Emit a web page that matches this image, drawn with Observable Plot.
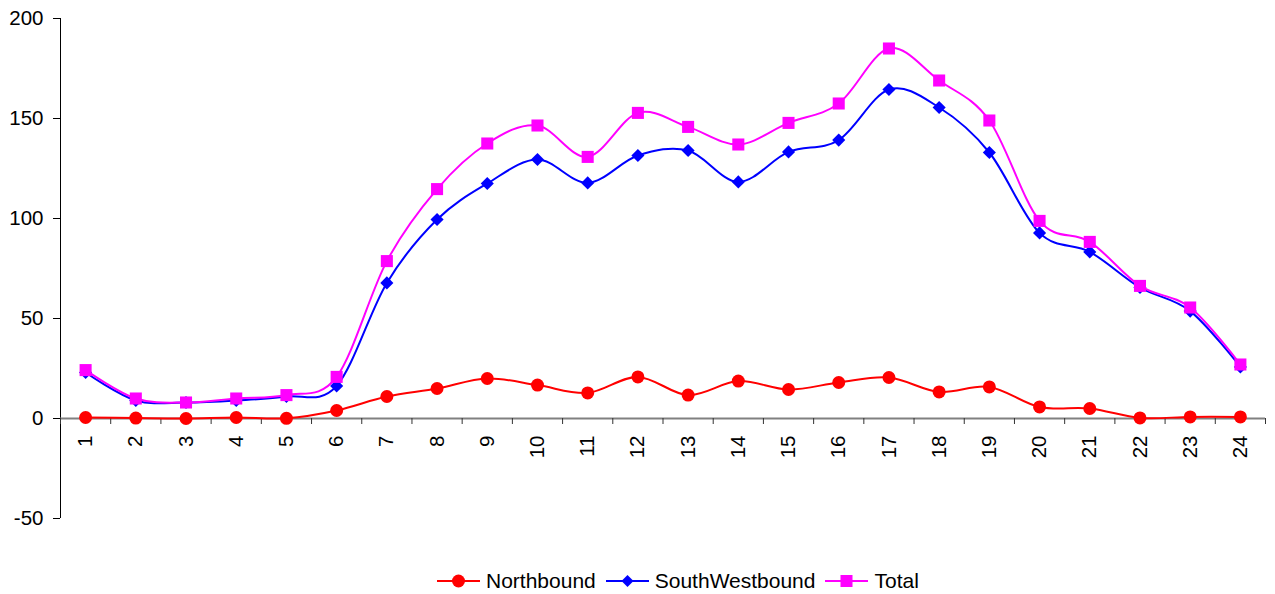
<!DOCTYPE html>
<html>
<head>
<meta charset="utf-8">
<script src="https://cdn.jsdelivr.net/npm/d3@7"></script>
<script src="https://cdn.jsdelivr.net/npm/@observablehq/plot@0.6"></script>
<style>
  html, body { margin: 0; padding: 0; background: #fff; }
  body { width: 1275px; height: 594px; overflow: hidden; font-family: "Liberation Sans", Arial, sans-serif; }
  #legend { display: flex; align-items: center; padding-left: 437px; padding-top: 9px; height: 24px; font-size: 21px; color: #000; }
  #legend .item { display: flex; align-items: center; margin-right: 10px; }
  #legend svg { margin-right: 6px; }
</style>
</head>
<body>
<div id="chart"></div>
<div id="legend"></div>
<script>
const hours = [1,2,3,4,5,6,7,8,9,10,11,12,13,14,15,16,17,18,19,20,21,22,23,24];
const northbound = [0.5,0.2,0,0.5,0.1,4,11,15,20,16.7,12.8,20.8,11.7,18.7,14.5,18,20.5,13.3,15.8,5.8,5,0.3,0.8,0.8];
const southWestbound = [23,9,8,9,11,16.3,67.8,99.5,117.5,129.5,117.8,131.5,134,118.3,133.3,139.2,164.5,155.5,133,92.8,83.3,65.5,53.7,25.8];
const total = [24.2,10,8,10,11.7,20.8,78.7,114.7,137.5,146.5,130.8,152.8,145.8,137,147.8,157.5,185,169,149,98.8,88.3,66.3,55.5,27];
const seriesNames = ["Northbound", "SouthWestbound", "Total"];
const seriesColors = ["#FF0000", "#0000FF", "#FF00FF"];
const seriesSymbols = ["circle", "diamond2", "square"];
const seriesSizes = [6.5, 5.9, 6.8];
const yTicks = [-50, 0, 50, 100, 150, 200];

const seriesValues = [northbound, southWestbound, total];
const rows = [];
seriesNames.forEach((name, s) => {
  hours.forEach((h, i) => rows.push({series: name, hour: h, value: seriesValues[s][i]}));
});
const boundaries = [hours[0] - 0.5, ...hours.map(h => h + 0.5)];

const seriesMarks = [];
seriesNames.forEach((name, s) => {
  const data = rows.filter(r => r.series === name);
  seriesMarks.push(Plot.line(data, {x: "hour", y: "value", stroke: seriesColors[s], strokeWidth: 2, curve: "cardinal"}));
  seriesMarks.push(Plot.dot(data, {x: "hour", y: "value", symbol: () => seriesSymbols[s], fill: seriesColors[s], stroke: "none", r: seriesSizes[s]}));
});

const font = "Liberation Sans, Arial, sans-serif";
const chart = Plot.plot({
  width: 1275,
  height: 560,
  marginLeft: 60,
  marginRight: 10,
  marginTop: 18,
  marginBottom: 42,
  style: {fontFamily: font, fontSize: "20.5px", color: "#000", background: "#fff", overflow: "visible"},
  x: {type: "linear", domain: [boundaries[0], boundaries[boundaries.length - 1]], axis: null},
  y: {domain: [-50, 200], axis: null},
  symbol: {type: "identity"},
  marks: [
    Plot.axisY({ticks: yTicks, tickFormat: d => String(d), tickSize: 7, tickPadding: 10, fontSize: 20.5, stroke: "#000", fill: "#000", label: null}),
    Plot.ruleX([boundaries[0]], {stroke: "#000", strokeWidth: 1}),
    Plot.ruleY([0], {stroke: "#808080", strokeWidth: 2}),
    Plot.ruleX(boundaries, {x: d => d, y1: () => 0, y2: () => 0, insetBottom: -6, stroke: "#333", strokeWidth: 1}),
    Plot.text(hours, {x: d => d, y: () => 0, text: d => String(d), rotate: -90, textAnchor: "end", lineAnchor: "middle", dy: 17, fontSize: 20.5, fill: "#000"}),
    ...seriesMarks
  ]
});
document.getElementById("chart").appendChild(chart);

const legend = document.getElementById("legend");
seriesNames.forEach((name, s) => {
  const item = document.createElement("div");
  item.className = "item";
  const sym = seriesSymbols[s];
  let marker;
  if (sym === "circle") marker = `<circle cx="21.5" cy="10" r="6.5" fill="${seriesColors[s]}"/>`;
  else if (sym === "diamond2") marker = `<path d="M21.5,4 L27.5,10 L21.5,16 L15.5,10 Z" fill="${seriesColors[s]}"/>`;
  else marker = `<rect x="15.5" y="4" width="12" height="12" fill="${seriesColors[s]}"/>`;
  item.innerHTML = `<svg width="43" height="20"><line x1="0" y1="10" x2="43" y2="10" stroke="${seriesColors[s]}" stroke-width="2"/>${marker}</svg><span>${name}</span>`;
  legend.appendChild(item);
});
</script>
</body>
</html>
